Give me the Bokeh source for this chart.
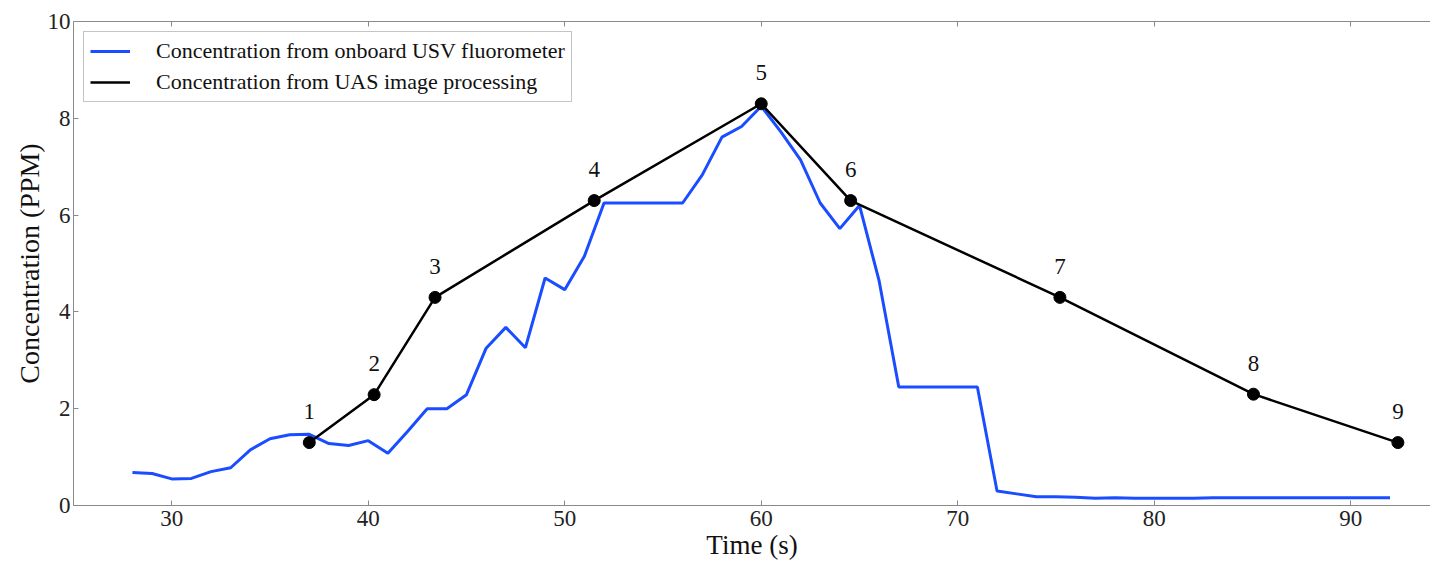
from bokeh.plotting import figure
from bokeh.models import LinearAxis, Legend, LegendItem, Range1d, FixedTicker, ColumnDataSource
from bokeh.core.properties import value
from bokeh.embed import file_html
from bokeh.resources import INLINE

# Blue series: onboard USV fluorometer (time s, concentration PPM)
usv_time = list(range(28, 93))
usv_conc = [0.68, 0.66, 0.55, 0.56, 0.70, 0.78, 1.15, 1.38, 1.46, 1.47,
            1.28, 1.24, 1.34, 1.08, 1.53, 2.00, 2.00, 2.29, 3.25, 3.68,
            3.26, 4.70, 4.46, 5.15, 6.25, 6.25, 6.25, 6.25, 6.25, 6.83,
            7.61, 7.83, 8.25, 7.72, 7.14, 6.25, 5.72, 6.20, 4.64, 2.45,
            2.45, 2.45, 2.45, 2.45, 0.30, 0.24, 0.18, 0.18, 0.17, 0.15,
            0.16, 0.15, 0.15, 0.15, 0.15, 0.16, 0.16, 0.16, 0.16, 0.16,
            0.16, 0.16, 0.16, 0.16, 0.16]

# Black series: UAS image processing
uas_time = [37.0, 40.3, 43.4, 51.5, 60.0, 64.55, 75.2, 85.05, 92.4]
uas_conc = [1.30, 2.29, 4.30, 6.30, 8.30, 6.30, 4.30, 2.30, 1.30]
uas_labels = ["1", "2", "3", "4", "5", "6", "7", "8", "9"]

x_ticks = [30, 40, 50, 60, 70, 80, 90]
y_ticks = [0, 2, 4, 6, 8, 10]

FONT = "Liberation Serif"
GRAY = "#8a8a8a"
BLUE = "#1a4dff"

p = figure(width=1430, height=562, output_backend="svg", toolbar_location=None,
           x_range=Range1d(25, 94.06), y_range=Range1d(0, 10),
           min_border_left=73, min_border_right=0, min_border_top=21, min_border_bottom=55)
p.outline_line_color = None
p.xgrid.visible = False
p.ygrid.visible = False

for ax in (p.xaxis[0], p.yaxis[0]):
    ax.axis_line_color = GRAY
    ax.major_tick_line_color = GRAY
    ax.major_tick_in = 5
    ax.major_tick_out = 0
    ax.minor_tick_line_color = None
    ax.major_label_text_font = FONT
    ax.major_label_text_font_size = "23px"
    ax.major_label_text_color = "#222222"
    ax.axis_label_text_font = FONT
    ax.axis_label_text_font_style = "normal"
    ax.axis_label_text_color = "#111111"

p.xaxis.ticker = FixedTicker(ticks=x_ticks)
p.yaxis.ticker = FixedTicker(ticks=y_ticks)
p.xaxis.axis_label = "Time (s)"
p.yaxis.axis_label = "Concentration (PPM)"
p.xaxis.axis_label_text_font_size = "27px"
p.yaxis.axis_label_text_font_size = "28px"
p.xaxis.major_label_standoff = 5
p.xaxis.axis_label_standoff = 1
p.yaxis.major_label_standoff = 3
p.yaxis.axis_label_standoff = 0

top = LinearAxis(ticker=FixedTicker(ticks=x_ticks), axis_line_color=GRAY,
                 major_tick_line_color=GRAY, major_tick_in=5, major_tick_out=0,
                 minor_tick_line_color=None, major_label_text_color=None,
                 major_label_text_font_size="1px", major_label_standoff=0)
p.add_layout(top, "above")

usv = p.line(usv_time, usv_conc, line_color=BLUE, line_width=3)
uas = p.line(uas_time, uas_conc, line_color="black", line_width=2.5)
p.scatter(uas_time, uas_conc, size=12, fill_color="black", line_color="black")

src = ColumnDataSource(dict(x=uas_time, y=uas_conc, t=uas_labels))
p.text(x="x", y="y", text="t", source=src, text_font=value(FONT),
       text_font_size="23px", text_align="center", text_baseline="middle",
       y_offset=-31, text_color="#111111")

legend = Legend(items=[LegendItem(label="Concentration from onboard USV fluorometer", renderers=[usv]),
                       LegendItem(label="Concentration from UAS image processing", renderers=[uas])],
                location="top_left", margin=10, padding=6, spacing=5,
                glyph_width=40, glyph_height=22, label_height=22, label_standoff=26,
                label_text_font=FONT, label_text_font_size="22px", label_text_color="#111111",
                border_line_color=GRAY, border_line_width=1, background_fill_alpha=1)
p.add_layout(legend)

open("out.html", "w").write(file_html(p, INLINE))
